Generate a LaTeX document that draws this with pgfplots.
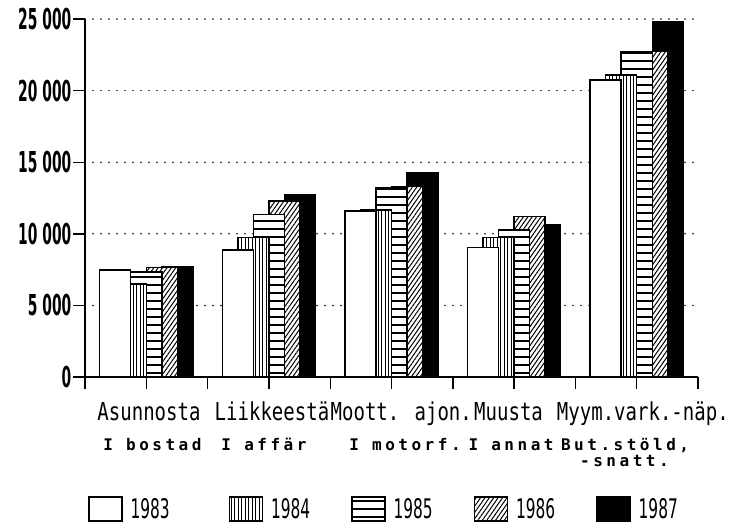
\documentclass[border=0pt]{standalone}
\usepackage{pgfplots}
\pgfplotsset{compat=1.18}
\usepackage{pgfplotstable}
\usetikzlibrary{patterns.meta}
\usepackage{fontspec}
\setmainfont{DejaVu Sans}
\newfontfamily\catfont[FakeStretch=0.77]{DejaVu Sans Mono}
\newfontfamily\numfont[FakeStretch=0.48]{DejaVu Sans}
\newfontfamily\legfont[FakeStretch=0.57]{DejaVu Sans}
\newfontfamily\monofont[LetterSpace=22]{DejaVu Sans Mono}

\pgfplotstableread{
g   y83    y84    y85    y86    y87
1   7470   6500   7330   7650   7700
2   8870   9750   11360  12290  12710
3   11590  11660  13220  13290  14290
4   9030   9750   10265  11195  10615
5   20740  21090  22720  22750  24810
}\crimes

\tikzset{
  b83/.style={draw=black, line width=1.4pt, fill=white},
  b84/.style={draw=black, line width=1.4pt, preaction={fill=white},
    pattern={Lines[angle=90,distance=3.5pt,line width=1pt]}},
  b85/.style={draw=black, line width=1.4pt, preaction={fill=white},
    pattern={Lines[angle=0,distance=8pt,line width=2pt]}},
  b86/.style={draw=black, line width=1.4pt, preaction={fill=white},
    pattern={Lines[angle=55,distance=3.6pt,line width=1pt]}},
  b87/.style={draw=black, line width=1.4pt, fill=black},
  cat/.style={anchor=base, font=\catfont\fontsize{24.7}{24.7}\selectfont, inner sep=0pt},
  sv/.style={anchor=base, font=\monofont\bfseries\fontsize{16}{16}\selectfont, inner sep=0pt},
}

\begin{document}
\begin{tikzpicture}
\path[use as bounding box] (-85pt,-148pt) rectangle (648pt,377pt);
\begin{axis}[
  scale only axis, width=613pt, height=358pt,
  xmin=0.5, xmax=5.5, ymin=0, ymax=25000,
  axis x line*=bottom, axis y line*=left,
  axis line style={line width=1.6pt, black},
  xtick={0.5,1,...,5.5}, xticklabels={},
  ytick={0,5000,10000,15000,20000,25000},
  scaled y ticks=false,
  yticklabels={0,5\hspace{5pt}000,10\hspace{5pt}000,15\hspace{5pt}000,20\hspace{5pt}000,25\hspace{5pt}000},
  yticklabel style={font=\numfont\bfseries\fontsize{28.8}{28.8}\selectfont, inner sep=2pt},
  tick align=outside, major tick length=11.5pt,
  tick style={line width=1.4pt, black},
  ymajorgrids,
  grid style={line width=1.7pt, dash pattern=on 0pt off 8pt, line cap=round, black},
  clip=false,
  legend image code/.code={\draw[#1] (0pt,-12pt) rectangle (33pt,12pt);},
  legend entries={\makebox[57pt][l]{1983},1984,1985,1986,1987},
  legend style={at={(axis description cs:0.0,-0.327)}, anchor=north west,
    draw=none, fill=none, legend columns=5,
    font=\legfont\fontsize{27}{27}\selectfont,
    nodes={inner sep=0pt},
    /tikz/every odd column/.append style={column sep=8pt},
    /tikz/every even column/.append style={column sep=41pt}},
  legend cell align=left,
]
\addlegendimage{b83}
\addlegendimage{b84}
\addlegendimage{b85}
\addlegendimage{b86}
\addlegendimage{b87}

\addplot[ybar, bar width=0.253, bar shift=0.253, b87, forget plot] table[x=g, y=y87] {\crimes};
\addplot[ybar, bar width=0.253, bar shift=0.1265, b86, forget plot] table[x=g, y=y86] {\crimes};
\addplot[ybar, bar width=0.253, bar shift=0, b85, forget plot] table[x=g, y=y85] {\crimes};
\addplot[ybar, bar width=0.253, bar shift=-0.1265, b84, forget plot] table[x=g, y=y84] {\crimes};
\addplot[ybar, bar width=0.253, bar shift=-0.253, b83, forget plot] table[x=g, y=y83] {\crimes};

\node[cat, yshift=-43pt] at (axis cs:1.022,0) {Asunnosta};
\node[cat, yshift=-43pt] at (axis cs:2.025,0) {Liikkeestä};
\node[cat, yshift=-43pt] at (axis cs:3.080,0) {Moott. ajon.};
\node[cat, yshift=-43pt] at (axis cs:3.955,0) {Muusta};
\node[cat, yshift=-43pt] at (axis cs:5.050,0) {Myym.vark.-näp.};

\node[sv, yshift=-73pt] at (axis cs:1.050,0) {I bostad};
\node[sv, yshift=-73pt] at (axis cs:1.960,0) {I affär};
\node[sv, yshift=-73pt] at (axis cs:3.110,0) {I motorf.};
\node[sv, yshift=-73pt] at (axis cs:3.975,0) {I annat};
\node[sv, yshift=-73pt] at (axis cs:4.905,0) {But.stöld,};
\node[sv, yshift=-89pt] at (axis cs:4.900,0) {-snatt.};
\end{axis}
\end{tikzpicture}
\end{document}
